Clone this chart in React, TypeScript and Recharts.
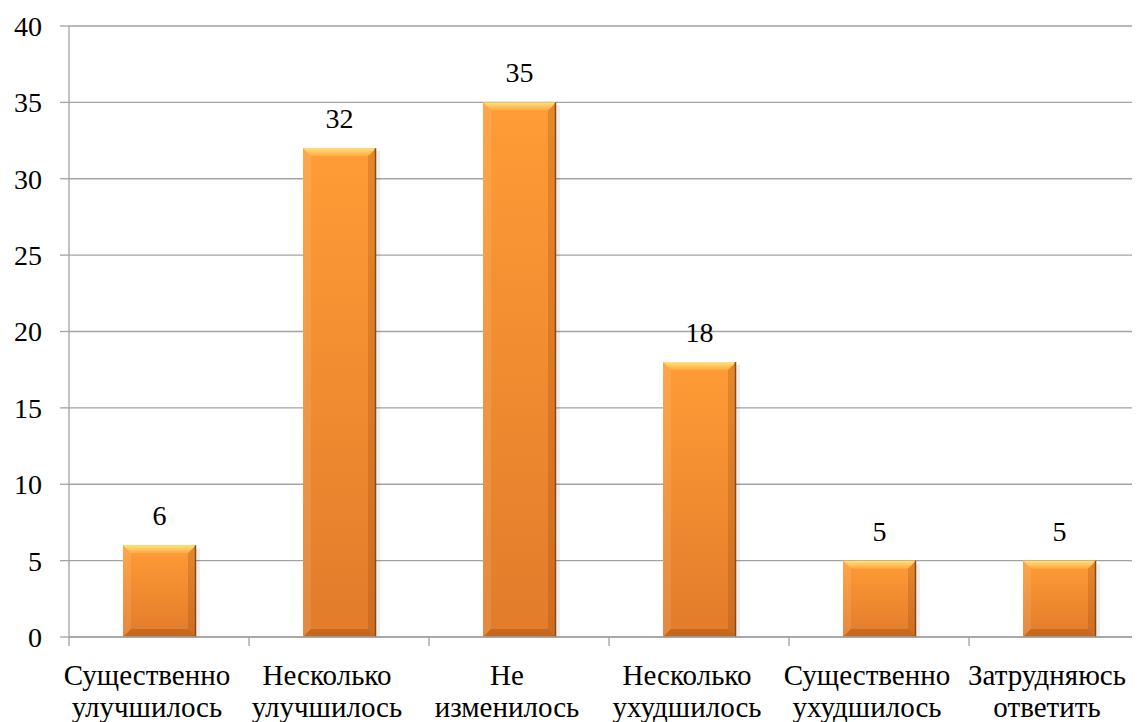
import { Bar, BarChart, CartesianGrid, LabelList, XAxis, YAxis } from 'recharts';

const categories = [
  'Существенно улучшилось',
  'Несколько улучшилось',
  'Не изменилось',
  'Несколько ухудшилось',
  'Существенно ухудшилось',
  'Затрудняюсь ответить',
];
const values = [6, 32, 35, 18, 5, 5];
const yTicks = [0, 5, 10, 15, 20, 25, 30, 35, 40];

const data = categories.map((name, i) => ({ name, value: values[i] }));

const FONT = '"Liberation Serif", "Times New Roman", Times, "DejaVu Serif", serif';
const GRID = '#a3a3a3';

const BevelBar = (props: any) => {
  const { x, y, width: w, height: h, index } = props;
  if (!h || h <= 0) return null;
  const b = Math.min(8, h / 2);
  const id = `bar-fill-${index}`;
  const tid = `bar-top-${index}`;
  return (
    <g>
      <defs>
        <linearGradient id={id} x1="0" y1="0" x2="0" y2="1">
          <stop offset="0%" stopColor="#ff9c36" />
          <stop offset="100%" stopColor="#e27b2b" />
        </linearGradient>
        <linearGradient id={tid} x1="0" y1="0" x2="0" y2="1">
          <stop offset="0%" stopColor="#ffe27a" />
          <stop offset="100%" stopColor="#ffa842" />
        </linearGradient>
      </defs>
      <rect x={x + w} y={y + 3} width={4} height={h - 3} fill="#000" opacity={0.07} />
      <rect x={x} y={y} width={w} height={h} fill={`url(#${id})`} />
      <polygon points={`${x},${y} ${x + w},${y} ${x + w - b},${y + b} ${x + b},${y + b}`} fill={`url(#${tid})`} />
      <polygon points={`${x},${y} ${x + b},${y + b} ${x + b},${y + h - b} ${x},${y + h}`} fill="#fff" opacity={0.1} />
      <polygon points={`${x + w},${y} ${x + w},${y + h} ${x + w - b},${y + h - b} ${x + w - b},${y + b}`} fill="#7a3800" opacity={0.2} />
      <polygon points={`${x},${y + h} ${x + w},${y + h} ${x + w - b},${y + h - b} ${x + b},${y + h - b}`} fill="#7a3800" opacity={0.28} />
      <line x1={x + w - 0.5} y1={y} x2={x + w - 0.5} y2={y + h} stroke="#8a4a14" strokeWidth={1.5} />
    </g>
  );
};

const CategoryTick = (props: any) => {
  const { x, y, payload } = props;
  const half = payload?.offset ?? 90;
  const lines = String(payload.value).split(' ');
  return (
    <g>
      <line x1={x - half} y1={y - 9} x2={x - half} y2={y} stroke={GRID} strokeWidth={1.3} />
      {lines.map((line, i) => (
        <text
          key={i}
          x={x - 12}
          y={y + 39 + i * 32}
          textAnchor="middle"
          fontSize={29}
          fill="#000"
          style={{ fontFamily: FONT }}
        >
          {line}
        </text>
      ))}
    </g>
  );
};

export default function App() {
  return (
    <div
      style={{
        position: 'absolute',
        left: 0,
        top: 0,
        width: 1140,
        height: 722,
        background: '#fff',
        fontFamily: FONT,
      }}
    >
      <BarChart
        width={1140}
        height={722}
        data={data}
        margin={{ top: 26, right: 8, bottom: 0, left: 0 }}
        style={{ fontFamily: FONT }}
      >
        <CartesianGrid horizontal vertical={false} stroke={GRID} strokeWidth={1.3} />
        <XAxis
          dataKey="name"
          height={85}
          axisLine={{ stroke: GRID, strokeWidth: 1.3 }}
          tickLine={false}
          tickSize={9}
          tickMargin={0}
          interval={0}
          padding={{ left: 0, right: -17 }}
          tick={<CategoryTick />}
        />
        <YAxis
          width={69}
          domain={[0, 40]}
          ticks={yTicks}
          interval={0}
          axisLine={{ stroke: GRID, strokeWidth: 1.3 }}
          tickLine={{ stroke: GRID, strokeWidth: 1.3 }}
          tickSize={9}
          tickMargin={18}
          tick={{ fill: '#000', fontSize: 28, style: { fontFamily: FONT } }}
        />
        <Bar dataKey="value" barSize={73} shape={<BevelBar />} isAnimationActive={false}>
          <LabelList
            dataKey="value"
            position="top"
            offset={20}
            fill="#000"
            fontSize={28}
            style={{ fontFamily: FONT }}
          />
        </Bar>
      </BarChart>
    </div>
  );
}
